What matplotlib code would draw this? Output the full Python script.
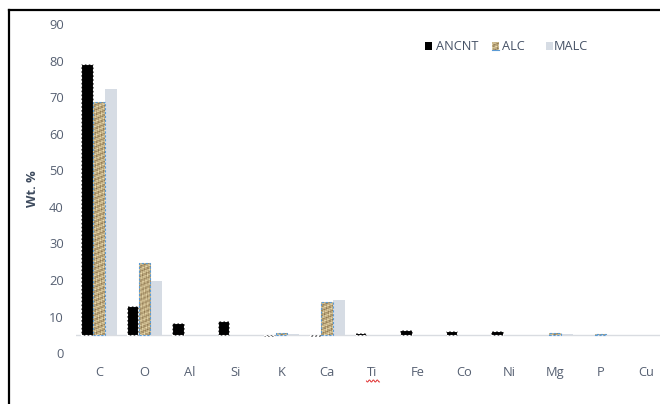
import numpy as np
import matplotlib
matplotlib.use("Agg")
import matplotlib.pyplot as plt
from matplotlib.patches import Rectangle
from matplotlib.lines import Line2D

plt.rcParams['font.family'] = ['Open Sans', 'DejaVu Sans']

# Elemental composition (Wt. %) of the three samples
elements = ["C", "O", "Al", "Si", "K", "Ca", "Ti", "Fe", "Co", "Ni", "Mg", "P", "Cu"]
ancnt = [79.1, 12.8, 8.1, 8.9, 4.7, 4.7, 5.4, 6.2, 6.1, 6.1, 5.0, 5.0, 5.0]
alc = [68.7, 24.6, 5.0, 5.0, 5.4, 14.0, 5.0, 5.0, 5.0, 5.0, 5.4, 5.25, 5.0]
malc = [72.3, 19.6, 5.0, 5.0, 5.3, 14.5, 5.0, 5.0, 5.0, 5.0, 5.3, 5.0, 5.0]
series_names = ["ANCNT", "ALC", "MALC"]
y_ticks = [0, 10, 20, 30, 40, 50, 60, 70, 80, 90]
axis_cross = 5.0  # the category axis crosses the value axis here

W, H = 660, 404
fig = plt.figure(figsize=(W / 100, H / 100), dpi=100)
fig.patch.set_facecolor("white")

# axes placed in pixel terms
ax_left, ax_right = 76.2, 668.8
ax_top, ax_bottom = 24.5, 353.0
ax = fig.add_axes([ax_left / W, 1 - ax_bottom / H,
                   (ax_right - ax_left) / W, (ax_bottom - ax_top) / H])
for s in ax.spines.values():
    s.set_visible(False)

tick_color = "#566072"
ax.set_yticks(y_ticks)
ax.set_yticklabels([str(t) for t in y_ticks])
ax.set_xticks(np.arange(len(elements)))
ax.set_xticklabels(elements)
ax.tick_params(axis="y", length=0, pad=9.0, labelsize=9.3, labelcolor=tick_color)
ax.tick_params(axis="x", length=0, pad=9.6, labelsize=9.3, labelcolor=tick_color)
ax.set_ylabel("Wt. %", fontsize=9.3, fontweight="bold", color="#3e4b5e", labelpad=7)

ax.axhline(axis_cross, color="#d9dce1", lw=1.0, zorder=1)

x = np.arange(len(elements))
bw = 0.25
off = 0.265


def weave_texture(rows, cols):
    r = np.arange(rows)[:, None].astype(float)
    c = np.arange(cols)[None, :].astype(float)
    v = (0.58 + 0.18 * np.sin(r * 1.35 + c * 0.6)
         + 0.14 * np.sin(r * 0.43) * np.cos(c * 1.9)
         + 0.12 * np.cos(r * 2.7 - c * 1.1)
         + 0.08 * np.sin(r * 0.17 + c * 3.1))
    v = np.clip(v, 0, 1)
    dark = np.array([0.47, 0.37, 0.22])
    light = np.array([0.94, 0.88, 0.70])
    return dark + (light - dark) * v[..., None]


def nonzero(values):
    d = np.array(values) - axis_cross
    keep = np.abs(d) > 1e-9
    return x[keep], d[keep]


# ANCNT: black with white dashed outline
xs, vals = nonzero(ancnt)
ax.bar(xs - off, vals, bw, bottom=axis_cross, color="black",
       edgecolor="white", linestyle=(0, (2, 1.5)), linewidth=0.8, zorder=3)

# ALC: woven texture with blue dashed outline
xs, vals = nonzero(alc)
alc_bars = ax.bar(xs, vals, bw, bottom=axis_cross, color="#c8ad78",
                  linewidth=0, zorder=3)
for b, v in zip(alc_bars, vals):
    rows = max(2, int(abs(v) * 3.67))
    tex = weave_texture(rows, 12)
    y_lo, y_hi = sorted([b.get_y(), b.get_y() + b.get_height()])
    im = ax.imshow(tex, extent=(b.get_x(), b.get_x() + bw, y_lo, y_hi),
                   aspect="auto", interpolation="bilinear", zorder=3.5)
    im.set_clip_path(b)
ax.bar(xs, vals, bw, bottom=axis_cross, facecolor="none",
       edgecolor="#5b9bd5", linestyle=(0, (2, 1.5)), linewidth=0.8, zorder=4)

# MALC: pale grey-blue
xs, vals = nonzero(malc)
ax.bar(xs + off, vals, bw, bottom=axis_cross, color="#d6dce4", linewidth=0, zorder=3)

ax.set_xlim(-0.5, len(elements) - 0.5)
ax.set_ylim(0, 90)

# legend
leg_y = 46.0
leg_items = [(425, 436, "black", None), (492, 502, None, "tex"), (546, 554, "#d6dce4", None)]
for (sx, tx, col, kind), name in zip(leg_items, series_names):
    fx, fy = sx / W, 1 - (leg_y + 4) / H
    fw, fh = 7 / W, 8 / H
    if kind == "tex":
        lax = fig.add_axes([fx, fy, fw, fh])
        lax.imshow(weave_texture(8, 7), aspect="auto", interpolation="bilinear")
        lax.set_axis_off()
        fig.add_artist(Line2D([fx, fx + fw], [fy, fy], transform=fig.transFigure,
                              color="#5b9bd5", lw=0.8))
    else:
        fig.add_artist(Rectangle((fx, fy), fw, fh, transform=fig.transFigure,
                                 facecolor=col, edgecolor="none"))
    fig.text(tx / W, 1 - leg_y / H, name, fontsize=9.2, color="#465266",
             va="center", ha="left")

# spell-check squiggle under "Ti"
ti_x = ax.transData.transform((6, 0))[0]
sq_x = np.linspace(ti_x - 6, ti_x + 7, 40)
sq_y = 381 + 1.0 * np.sin((sq_x - sq_x[0]) * 1.6)
fig.add_artist(Line2D(sq_x / W, 1 - sq_y / H, transform=fig.transFigure,
                      color="#e03030", lw=0.7))

# frame along the top and left edges
fig.add_artist(Line2D([9 / W, 9 / W], [0, 1 - 9.5 / H], transform=fig.transFigure,
                      color="black", lw=1.6))
fig.add_artist(Line2D([8.5 / W, 1], [1 - 9.5 / H, 1 - 9.5 / H], transform=fig.transFigure,
                      color="black", lw=1.6))

fig.savefig("out.png", dpi=100)
